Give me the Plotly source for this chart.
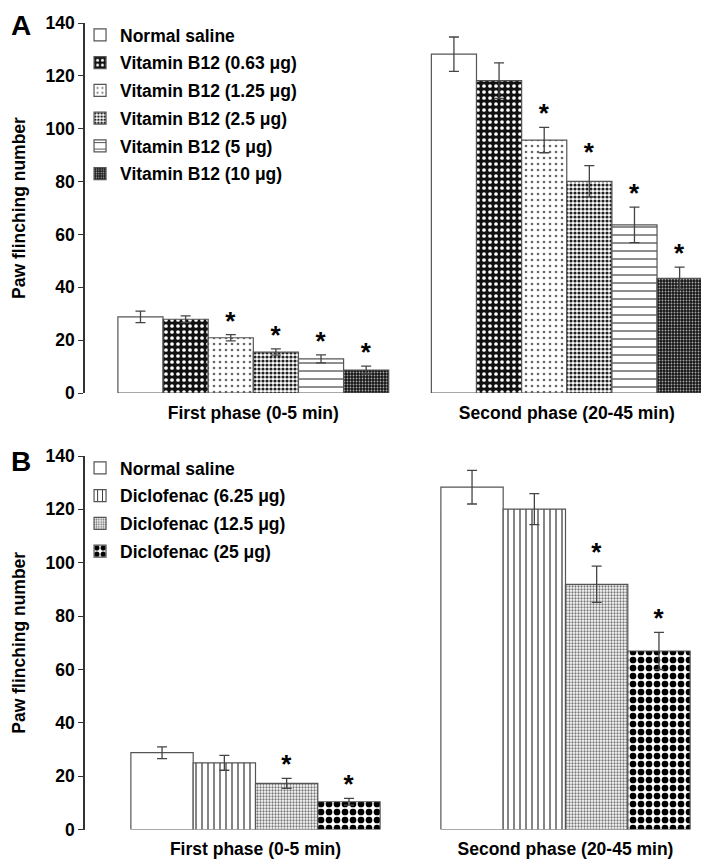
import plotly.graph_objects as go

# categories (x) shared by both panels
phases = ["First phase (0-5 min)", "Second phase (20-45 min)"]

# Panel A - vitamin B12
a_names = ["Normal saline", "Vitamin B12 (0.63 μg)", "Vitamin B12 (1.25 μg)",
           "Vitamin B12 (2.5 μg)", "Vitamin B12 (5 μg)", "Vitamin B12 (10 μg)"]
a_means = [[28.8, 128.2], [27.9, 118.2], [20.9, 95.7],
           [15.5, 80.1], [12.9, 63.6], [8.7, 43.4]]
a_errs = [[2.2, 6.5], [1.3, 6.7], [1.2, 4.8],
          [1.2, 5.9], [1.5, 6.7], [1.5, 4.2]]
a_stars = [[0, 0], [0, 0], [1, 1], [1, 1], [1, 1], [1, 1]]

# Panel B - diclofenac
b_names = ["Normal saline", "Diclofenac (6.25 μg)", "Diclofenac (12.5 μg)",
           "Diclofenac (25 μg)"]
b_means = [[28.8, 128.3], [25.0, 120.1], [17.3, 91.9], [10.4, 66.9]]
b_errs = [[2.2, 6.3], [2.8, 5.8], [1.9, 6.8], [1.3, 7.0]]
b_stars = [[0, 0], [0, 0], [1, 1], [1, 1]]

FONT = "Arial, Liberation Sans, sans-serif"
FS = 17.5
W, H = 701, 857  # page body adds an 8px margin

a_patterns = [
    dict(shape=""),
    dict(shape=".", bgcolor="#111", fgcolor="white", size=6, solidity=0.3, fillmode="replace"),
    dict(shape=".", bgcolor="white", fgcolor="#666", size=6, solidity=0.15, fillmode="replace"),
    dict(shape=".", bgcolor="white", fgcolor="#222", size=4, solidity=0.5, fillmode="replace"),
    dict(shape="-", bgcolor="white", fgcolor="#444", size=8, solidity=0.15, fillmode="replace"),
    dict(shape=".", bgcolor="#151515", fgcolor="#aaa", size=3, solidity=0.3, fillmode="replace"),
]
b_patterns = [
    dict(shape=""),
    dict(shape="|", bgcolor="white", fgcolor="#333", size=6, solidity=0.2, fillmode="replace"),
    dict(shape=".", bgcolor="white", fgcolor="#777", size=3, solidity=0.45, fillmode="replace"),
    dict(shape=".", bgcolor="white", fgcolor="black", size=8, solidity=0.55, fillmode="replace"),
]


def add_panel(fig, names, means, errs, stars, patterns, xa, ya, legend, w):
    n = len(names)
    for i in range(n):
        off = -n * w / 2 + i * w
        fig.add_trace(go.Bar(
            x=phases, y=means[i], name=names[i],
            offset=off, width=w,
            marker=dict(color="white", line=dict(color="#555", width=1.2),
                        pattern=patterns[i]),
            error_y=dict(type="data", array=errs[i], color="#444",
                         thickness=1.3, width=5),
            xaxis=xa, yaxis=ya, legend=legend, legendgroup=names[i],
        ))
        # invisible bar reaching the error-bar top, carrying the significance mark
        fig.add_trace(go.Bar(
            x=phases, y=[m + e - 1.5 for m, e in zip(means[i], errs[i])],
            offset=off, width=w, showlegend=False, hoverinfo="skip",
            marker=dict(color="rgba(0,0,0,0)", line=dict(width=0)),
            text=["*" if s else "" for s in stars[i]],
            textposition="outside", cliponaxis=False,
            textfont=dict(size=26, color="black", family=FONT, weight="bold"),
            xaxis=xa, yaxis=ya,
        ))


fig = go.Figure()
add_panel(fig, a_names, a_means, a_errs, a_stars, a_patterns, "x", "y", "legend", 0.144)
add_panel(fig, b_names, b_means, b_errs, b_stars, b_patterns, "x2", "y2", "legend2", 0.201)

yax = dict(range=[0, 140], dtick=20, showline=True, linecolor="#333", linewidth=1.5,
           ticks="outside", ticklen=5, tickcolor="#333", showgrid=False, zeroline=False,
           tickfont=dict(size=FS, family=FONT, weight="bold", color="black"),
           title=dict(text="Paw flinching number",
                      font=dict(size=FS, family=FONT, weight="bold", color="black")),
           automargin=False)
xax = dict(showline=False, ticks="", showgrid=False, zeroline=False,
           ticklabelstandoff=7,
           tickfont=dict(size=FS, family=FONT, weight="bold", color="black"),
           automargin=False)

leg = dict(x=-0.008, xanchor="left", yanchor="top", bgcolor="rgba(0,0,0,0)",
           font=dict(size=FS, family=FONT, weight="bold", color="black"),
           traceorder="grouped", tracegroupgap=2, itemclick=False)

letter_font = dict(size=28, family=FONT, weight="bold", color="black")

fig.update_layout(
    width=W, height=H,
    margin=dict(l=77, r=4, t=0, b=0),
    plot_bgcolor="white", paper_bgcolor="white",
    barmode="group",
    font=dict(family=FONT, color="black"),
    xaxis=dict(xax, domain=[0, 1], anchor="y", range=[-0.537, 1.441]),
    yaxis=dict(yax, domain=[1 - 385 / H, 1 - 15 / H], anchor="x"),
    xaxis2=dict(xax, domain=[0, 1], anchor="y2", range=[-0.55, 1.45]),
    yaxis2=dict(yax, domain=[1 - 821.5 / H, 1 - 448 / H], anchor="x2"),
    legend=dict(leg, y=1 - 9 / H),
    legend2=dict(leg, y=1 - 442 / H),
    annotations=[
        dict(text="A", xref="paper", yref="paper", x=-76 / 620, y=1, showarrow=False,
             xanchor="left", yanchor="top", font=letter_font),
        dict(text="B", xref="paper", yref="paper", x=-76 / 620, y=1 - 454 / H, showarrow=False,
             xanchor="left", yanchor="middle", font=letter_font),
    ],
)

fig.write_html("out.html")
